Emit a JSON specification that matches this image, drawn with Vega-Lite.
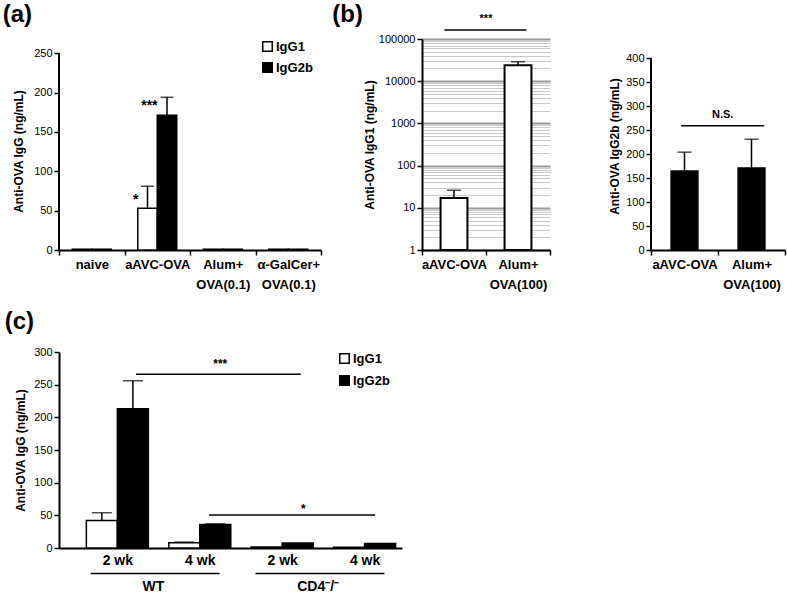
{
  "$schema": "https://vega.github.io/schema/vega-lite/v6.json",
  "background": "white",
  "padding": {"left": 2, "top": 2, "right": 1, "bottom": 0},
  "config": {
    "font": "Liberation Sans, Arial, sans-serif",
    "view": {"stroke": null},
    "axis": {"domainColor": "black", "domainWidth": 2, "tickColor": "black", "tickWidth": 1.5, "tickSize": 5, "labelColor": "black", "labelFontSize": 11, "titleColor": "black", "titleFontSize": 12, "titleFontWeight": "bold", "labelPadding": 2, "grid": false},
    "axisX": {"labelAngle": 0, "labelFontSize": 13, "labelFontWeight": "bold", "tickBand": "extent", "labelLineHeight": 20, "labelPadding": 3, "labelOverlap": false},
    "title": {"fontSize": 24, "fontWeight": "bold", "anchor": "start", "color": "black"},
    "legend": {"title": null, "symbolType": "square", "symbolSize": 90, "symbolStrokeColor": "black", "symbolStrokeWidth": 1.5, "labelFontSize": 13, "labelFontWeight": "bold", "labelColor": "black", "rowPadding": 4, "labelOffset": 2}
  },
  "resolve": {"scale": {"xOffset": "independent", "fill": "independent"}},
  "spacing": 19,
  "vconcat": [
    {
      "spacing": 10,
      "hconcat": [
        {
          "width": 262, "height": 211,
          "title": {"text": "(a)", "dx": -10, "offset": 12},
          "data": {"values": [
            {"g": "naive", "iso": "IgG1", "v": 1},
            {"g": "naive", "iso": "IgG2b", "v": 1},
            {"g": "aAVC-OVA", "iso": "IgG1", "v": 53, "up": 81},
            {"g": "aAVC-OVA", "iso": "IgG2b", "v": 171, "up": 194},
            {"g": "Alum+|OVA(0.1)", "iso": "IgG1", "v": 1},
            {"g": "Alum+|OVA(0.1)", "iso": "IgG2b", "v": 1},
            {"g": "α-GalCer+|OVA(0.1)", "iso": "IgG1", "v": 1},
            {"g": "α-GalCer+|OVA(0.1)", "iso": "IgG2b", "v": 1}
          ]},
          "layer": [
            {
              "mark": {"type": "bar", "stroke": "black", "strokeWidth": 1.5},
              "encoding": {
                "x": {"field": "g", "type": "nominal", "scale": {"domain": ["naive", "aAVC-OVA", "Alum+|OVA(0.1)", "α-GalCer+|OVA(0.1)"], "paddingInner": 0, "paddingOuter": 0}, "axis": {"title": null, "labelExpr": "isValid(datum.value) ? split(datum.value, '|') : ''"}},
                "xOffset": {"field": "iso", "type": "nominal", "scale": {"domain": ["IgG1", "IgG2b"], "paddingInner": 0, "paddingOuter": 0.68}},
                "y": {"field": "v", "type": "quantitative", "scale": {"domain": [0, 268], "nice": false}, "axis": {"values": [0, 50, 100, 150, 200, 250], "tickCount": 20, "labelOverlap": false, "domain": false, "title": "Anti-OVA IgG (ng/mL)", "titlePadding": 8, "titleY": 112}},
                "fill": {"field": "iso", "type": "nominal", "scale": {"domain": ["IgG1", "IgG2b"], "range": ["white", "black"]}, "legend": {"orient": "none", "legendX": 202, "legendY": 1, "rowPadding": 4}}
              }
            },
            {
              "data": {"values": [{"g": "naive", "lo": 0, "hi": 250}]},
              "mark": {"type": "rule", "strokeWidth": 2, "color": "black"},
              "encoding": {
                "x": {"field": "g", "type": "nominal", "bandPosition": 0},
                "y": {"field": "lo", "type": "quantitative"},
                "y2": {"field": "hi"}
              }
            },
            {
              "transform": [{"filter": "isValid(datum.up)"}],
              "mark": {"type": "rule", "strokeWidth": 1.5, "color": "black"},
              "encoding": {
                "x": {"field": "g", "type": "nominal"},
                "xOffset": {"field": "iso", "type": "nominal"},
                "y": {"field": "v", "type": "quantitative"},
                "y2": {"field": "up"}
              }
            },
            {
              "transform": [{"filter": "isValid(datum.up)"}],
              "mark": {"type": "tick", "thickness": 1.5, "size": 13, "color": "black"},
              "encoding": {
                "x": {"field": "g", "type": "nominal"},
                "xOffset": {"field": "iso", "type": "nominal"},
                "y": {"field": "up", "type": "quantitative"}
              }
            },
            {
              "data": {"values": [{"g": "aAVC-OVA", "t": "*", "v": 63}]},
              "mark": {"type": "text", "fontSize": 14, "fontWeight": "bold", "baseline": "middle"},
              "encoding": {
                "x": {"field": "g", "type": "nominal", "bandPosition": 0.17},
                "y": {"field": "v", "type": "quantitative"},
                "text": {"field": "t"}
              }
            },
            {
              "data": {"values": [{"g": "aAVC-OVA", "t": "***", "v": 183}]},
              "mark": {"type": "text", "fontSize": 14, "fontWeight": "bold", "baseline": "middle"},
              "encoding": {
                "x": {"field": "g", "type": "nominal", "bandPosition": 0.38},
                "y": {"field": "v", "type": "quantitative"},
                "text": {"field": "t"}
              }
            }
          ]
        },
        {
          "spacing": 57,
          "hconcat": [
            {
              "width": 128, "height": 211,
              "title": {"text": "(b)", "dx": -31, "offset": -14},
              "data": {"values": [
                {"g": "aAVC-OVA", "v": 17, "up": 26},
                {"g": "Alum+|OVA(100)", "v": 23800, "up": 29000}
              ]},
              "layer": [
                {
                  "mark": {"type": "bar", "fill": "white", "stroke": "black", "strokeWidth": 2, "width": {"band": 0.42}},
                  "encoding": {
                    "x": {"field": "g", "type": "nominal", "scale": {"domain": ["aAVC-OVA", "Alum+|OVA(100)"], "paddingInner": 0, "paddingOuter": 0}, "axis": {"title": null, "labelExpr": "isValid(datum.value) ? split(datum.value, '|') : ''"}},
                    "y": {"field": "v", "type": "quantitative", "scale": {"type": "log", "domain": [1, 100000], "nice": false},
                      "axis": {
                        "title": "Anti-OVA IgG1 (ng/mL)", "titlePadding": 2, "labelOverlap": false, "labelColor": "black", "tickCount": 100,
                        "values": [1,2,3,4,5,6,7,8,9,10,20,30,40,50,60,70,80,90,100,200,300,400,500,600,700,800,900,1000,2000,3000,4000,5000,6000,7000,8000,9000,10000,20000,30000,40000,50000,60000,70000,80000,90000,100000],
                        "grid": true,
                        "gridColor": {"condition": {"test": "abs(log(datum.value)/LN10 - round(log(datum.value)/LN10)) < 0.001", "value": "#9a9a9a"}, "value": "#c8c8c8"},
                        "gridWidth": {"condition": {"test": "abs(log(datum.value)/LN10 - round(log(datum.value)/LN10)) < 0.001", "value": 2}, "value": 1},
                        "tickOpacity": {"condition": {"test": "abs(log(datum.value)/LN10 - round(log(datum.value)/LN10)) < 0.001", "value": 1}, "value": 0},
                        "labelExpr": "abs(log(datum.value)/LN10 - round(log(datum.value)/LN10)) < 0.001 ? format(datum.value, 'd') : ''"
                      }},
                    "y2": {"datum": 1}
                  }
                },
                {
                  "mark": {"type": "rule", "strokeWidth": 1.5, "color": "black"},
                  "encoding": {
                    "x": {"field": "g", "type": "nominal"},
                    "y": {"field": "v", "type": "quantitative"},
                    "y2": {"field": "up"}
                  }
                },
                {
                  "mark": {"type": "tick", "thickness": 1.5, "size": 14, "color": "black"},
                  "encoding": {
                    "x": {"field": "g", "type": "nominal"},
                    "y": {"field": "up", "type": "quantitative"}
                  }
                },
                {
                  "data": {"values": [{"a": "aAVC-OVA", "b": "Alum+|OVA(100)", "v": 163000}]},
                  "mark": {"type": "rule", "strokeWidth": 1.5, "color": "black"},
                  "encoding": {
                    "x": {"field": "a", "type": "nominal", "bandPosition": 0.35},
                    "x2": {"field": "b", "bandPosition": 0.63},
                    "y": {"field": "v", "type": "quantitative"}
                  }
                },
                {
                  "data": {"values": [{"a": "Alum+|OVA(100)", "t": "***", "v": 300000}]},
                  "mark": {"type": "text", "fontSize": 11, "fontWeight": "bold", "baseline": "middle"},
                  "encoding": {
                    "x": {"field": "a", "type": "nominal", "bandPosition": 0},
                    "y": {"field": "v", "type": "quantitative"},
                    "text": {"field": "t"}
                  }
                }
              ]
            },
            {
              "width": 134, "height": 211,
              "data": {"values": [
                {"g": "aAVC-OVA", "v": 165, "up": 204},
                {"g": "Alum+|OVA(100)", "v": 171, "up": 231}
              ]},
              "layer": [
                {
                  "mark": {"type": "bar", "fill": "black", "stroke": "black", "strokeWidth": 1.5, "width": {"band": 0.4}},
                  "encoding": {
                    "x": {"field": "g", "type": "nominal", "scale": {"domain": ["aAVC-OVA", "Alum+|OVA(100)"], "paddingInner": 0, "paddingOuter": 0}, "axis": {"title": null, "labelExpr": "isValid(datum.value) ? split(datum.value, '|') : ''"}},
                    "y": {"field": "v", "type": "quantitative", "scale": {"domain": [0, 440], "nice": false}, "axis": {"values": [0, 50, 100, 150, 200, 250, 300, 350, 400], "tickCount": 20, "labelOverlap": false, "domain": false, "title": "Anti-OVA IgG2b (ng/mL)", "titlePadding": 4, "titleY": 107}}
                  }
                },
                {
                  "data": {"values": [{"g": "aAVC-OVA", "lo": 0, "hi": 400}]},
                  "mark": {"type": "rule", "strokeWidth": 2, "color": "black"},
                  "encoding": {
                    "x": {"field": "g", "type": "nominal", "bandPosition": 0},
                    "y": {"field": "lo", "type": "quantitative"},
                    "y2": {"field": "hi"}
                  }
                },
                {
                  "mark": {"type": "rule", "strokeWidth": 1.5, "color": "black"},
                  "encoding": {
                    "x": {"field": "g", "type": "nominal"},
                    "y": {"field": "v", "type": "quantitative"},
                    "y2": {"field": "up"}
                  }
                },
                {
                  "mark": {"type": "tick", "thickness": 1.5, "size": 14, "color": "black"},
                  "encoding": {
                    "x": {"field": "g", "type": "nominal"},
                    "y": {"field": "up", "type": "quantitative"}
                  }
                },
                {
                  "data": {"values": [{"a": "aAVC-OVA", "b": "Alum+|OVA(100)", "v": 259}]},
                  "mark": {"type": "rule", "strokeWidth": 1.5, "color": "black"},
                  "encoding": {
                    "x": {"field": "a", "type": "nominal", "bandPosition": 0.45},
                    "x2": {"field": "b", "bandPosition": 0.69},
                    "y": {"field": "v", "type": "quantitative"}
                  }
                },
                {
                  "data": {"values": [{"a": "Alum+|OVA(100)", "t": "N.S.", "v": 282}]},
                  "mark": {"type": "text", "fontSize": 11, "fontWeight": "bold", "baseline": "middle"},
                  "encoding": {
                    "x": {"field": "a", "type": "nominal", "bandPosition": 0.07},
                    "y": {"field": "v", "type": "quantitative"},
                    "text": {"field": "t"}
                  }
                }
              ]
            }
          ]
        }
      ]
    },
    {
      "width": 343, "height": 196,
      "title": {"text": "(c)", "dx": -10, "offset": 12},
      "data": {"values": [
        {"c": "WT|2 wk", "iso": "IgG1", "v": 42, "up": 54},
        {"c": "WT|2 wk", "iso": "IgG2b", "v": 213, "up": 256},
        {"c": "WT|4 wk", "iso": "IgG1", "v": 8, "up": 9},
        {"c": "WT|4 wk", "iso": "IgG2b", "v": 36, "up": 37},
        {"c": "CD4|2 wk", "iso": "IgG1", "v": 1.5},
        {"c": "CD4|2 wk", "iso": "IgG2b", "v": 7.5},
        {"c": "CD4|4 wk", "iso": "IgG1", "v": 1},
        {"c": "CD4|4 wk", "iso": "IgG2b", "v": 7}
      ]},
      "layer": [
        {
          "mark": {"type": "bar", "stroke": "black", "strokeWidth": 1.5},
          "encoding": {
            "x": {"field": "c", "type": "nominal", "scale": {"domain": ["WT|2 wk", "WT|4 wk", "CD4|2 wk", "CD4|4 wk"], "paddingInner": 0.2476, "paddingOuter": 0.205, "align": 0.81}, "axis": {"title": null, "ticks": false, "labelFontSize": 14, "labelPadding": 5, "labelExpr": "isValid(datum.value) ? split(datum.value, '|')[1] : ''"}},
            "xOffset": {"field": "iso", "type": "nominal", "scale": {"domain": ["IgG1", "IgG2b"], "paddingInner": 0, "paddingOuter": 0}},
            "y": {"field": "v", "type": "quantitative", "scale": {"domain": [0, 300], "nice": false}, "axis": {"values": [0, 50, 100, 150, 200, 250, 300], "tickCount": 20, "labelOverlap": false, "title": "Anti-OVA IgG (ng/mL)", "titlePadding": 6, "titleY": 98}},
            "fill": {"field": "iso", "type": "nominal", "scale": {"domain": ["IgG1", "IgG2b"], "range": ["white", "black"]}, "legend": {"orient": "none", "legendX": 279, "legendY": 0, "rowPadding": 5}}
          }
        },
        {
          "transform": [{"filter": "isValid(datum.up)"}],
          "mark": {"type": "rule", "strokeWidth": 1.5, "color": "black"},
          "encoding": {
            "x": {"field": "c", "type": "nominal"},
            "xOffset": {"field": "iso", "type": "nominal"},
            "y": {"field": "v", "type": "quantitative"},
            "y2": {"field": "up"}
          }
        },
        {
          "transform": [{"filter": "isValid(datum.up)"}],
          "mark": {"type": "tick", "thickness": 1.5, "size": 20, "color": "black"},
          "encoding": {
            "x": {"field": "c", "type": "nominal"},
            "xOffset": {"field": "iso", "type": "nominal"},
            "y": {"field": "up", "type": "quantitative"}
          }
        },
        {
          "data": {"values": [{"a": "WT|2 wk", "b": "CD4|2 wk", "v": 266}]},
          "mark": {"type": "rule", "strokeWidth": 1.5, "color": "black"},
          "encoding": {
            "x": {"field": "a", "type": "nominal", "bandPosition": 0.8},
            "x2": {"field": "b", "bandPosition": 0.8},
            "y": {"field": "v", "type": "quantitative"}
          }
        },
        {
          "data": {"values": [{"a": "WT|4 wk", "b": "CD4|4 wk", "v": 50.5}]},
          "mark": {"type": "rule", "strokeWidth": 1.5, "color": "black"},
          "encoding": {
            "x": {"field": "a", "type": "nominal", "bandPosition": 0.65},
            "x2": {"field": "b", "bandPosition": 0.67},
            "y": {"field": "v", "type": "quantitative"}
          }
        },
        {
          "data": {"values": [{"a": "WT|4 wk", "t": "***", "v": 281}]},
          "mark": {"type": "text", "fontSize": 12, "fontWeight": "bold", "baseline": "middle"},
          "encoding": {
            "x": {"field": "a", "type": "nominal", "bandPosition": 0.83},
            "y": {"field": "v", "type": "quantitative"},
            "text": {"field": "t"}
          }
        },
        {
          "data": {"values": [{"a": "CD4|2 wk", "t": "*", "v": 60}]},
          "mark": {"type": "text", "fontSize": 12, "fontWeight": "bold", "baseline": "middle"},
          "encoding": {
            "x": {"field": "a", "type": "nominal", "bandPosition": 0.84},
            "y": {"field": "v", "type": "quantitative"},
            "text": {"field": "t"}
          }
        },
        {
          "data": {"values": [{"a": "WT|2 wk", "b": "WT|4 wk", "v": -39}, {"a": "CD4|2 wk", "b": "CD4|4 wk", "v": -39}]},
          "mark": {"type": "rule", "strokeWidth": 1.5, "color": "black"},
          "encoding": {
            "x": {"field": "a", "type": "nominal", "bandPosition": 0.07},
            "x2": {"field": "b", "bandPosition": 0.82},
            "y": {"field": "v", "type": "quantitative"}
          }
        },
        {
          "data": {"values": [{"a": "WT|2 wk", "t": "WT", "v": -60}, {"a": "CD4|2 wk", "t": "CD4⁻/⁻", "v": -60}]},
          "mark": {"type": "text", "fontSize": 14, "fontWeight": "bold", "baseline": "middle"},
          "encoding": {
            "x": {"field": "a", "type": "nominal", "bandPosition": 1.08},
            "y": {"field": "v", "type": "quantitative"},
            "text": {"field": "t"}
          }
        }
      ]
    }
  ]
}
